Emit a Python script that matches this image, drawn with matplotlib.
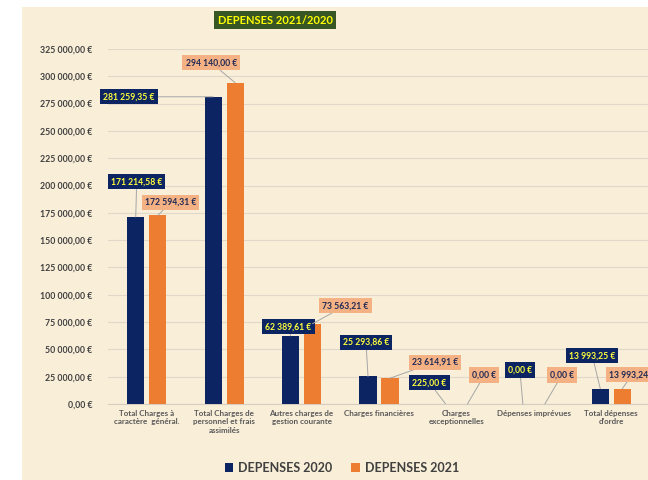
import matplotlib.pyplot as plt
import numpy as np
from matplotlib.patches import Rectangle
from matplotlib.ticker import FuncFormatter

plt.rcParams['font.family'] = ['Lato', 'DejaVu Sans']

categories = ["Total Charges à\ncaractère  général.",
              "Total Charges de\npersonnel et frais\nassimilés",
              "Autres charges de\ngestion courante",
              "Charges financières",
              "Charges\nexceptionnelles",
              "Dépenses imprévues",
              "Total dépenses\nd'ordre"]
dep_2020 = [171214.58, 281259.35, 62389.61, 25293.86, 225.00, 0.00, 13993.25]
dep_2021 = [172594.31, 294140.00, 73563.21, 23614.91, 0.00, 0.00, 13993.24]
series_names = ["DEPENSES 2020", "DEPENSES 2021"]

# label offsets in pixels from the top of each bar
off_2020 = [(1, 35), (-84, 0), (-2, 9), (-2, 34), (-16, 21), (-3, 34), (-8, 33)]
off_2021 = [(13, 13), (-24, 20), (33, 18), (45, 16), (17, 29), (17, 29), (10, 14)]

navy = "#0c2461"
orange = "#ed7d31"
salmon = "#f4b183"
bg = "#f9eed8"


def euro(v):
    s = f"{v:,.2f}".replace(",", " ").replace(".", ",")
    return s + " €"


fig = plt.figure(figsize=(6.48, 4.8), dpi=100)
fig.patch.set_facecolor("white")
fig.patches.append(Rectangle((22 / 648, 0), 1, 1 - 7 / 480, transform=fig.transFigure,
                             facecolor=bg, edgecolor="none", zorder=-10))

ax = fig.add_axes([108 / 648, 76 / 480, 542 / 648, 355 / 480])
ax.set_facecolor("none")

x = np.arange(len(categories))
w = 0.22
d = 0.142
ax.bar(x - d, dep_2020, w, color=navy, label=series_names[0], zorder=3)
ax.bar(x + d, dep_2021, w, color=orange, label=series_names[1], zorder=3)

ax.set_xlim(-0.5, len(categories) - 0.5)
ax.set_ylim(0, 325000)
ax.set_yticks(np.arange(0, 325001, 25000))
ax.yaxis.set_major_formatter(FuncFormatter(lambda v, p: euro(v)))
ax.grid(axis="y", color="#e0d8c8", linewidth=0.8, zorder=0)
ax.set_xticks(x)
ax.set_xticklabels(categories, fontsize=5.8, color="#595959", fontweight="bold", linespacing=1.3)
ax.tick_params(axis="y", length=0, pad=11, labelsize=6.3, labelcolor="#404040")
ax.tick_params(axis="x", length=0, pad=4)
for s in ["top", "right", "left"]:
    ax.spines[s].set_visible(False)
ax.spines["bottom"].set_color("#d6cfc0")
for t in ax.get_yticklabels():
    t.set_fontweight("bold")

for i in range(len(categories)):
    for val, xo, off, fc, tc in [(dep_2020[i], x[i] - d, off_2020[i], navy, "#ffff3c"),
                                 (dep_2021[i], x[i] + d, off_2021[i], salmon, "#1f2a55")]:
        ax.annotate(euro(val), xy=(xo, val), xytext=(off[0], off[1]),
                    textcoords="offset pixels", ha="center", va="center",
                    fontsize=6.2, fontweight="bold", color=tc, zorder=5,
                    bbox=dict(boxstyle="square,pad=0.35", fc=fc, ec="none"),
                    arrowprops=dict(arrowstyle="-", color="#a6a6a6", lw=0.7,
                                    shrinkA=0, shrinkB=0),
                    annotation_clip=False)

fig.text(275 / 648, 1 - 20 / 480, "DEPENSES 2021/2020", ha="center", va="center",
         fontsize=8, fontweight="bold", color="#ffff00",
         bbox=dict(boxstyle="square,pad=0.3", fc="#375623", ec="none"))

fig.legend(loc="center", bbox_to_anchor=(342 / 648, 1 - 468 / 480), ncol=2,
           frameon=False, prop={"size": 9, "weight": "bold"}, handlelength=0.7,
           handleheight=0.7, columnspacing=1.5, handletextpad=0.4, labelcolor="#404040")

fig.savefig("out.png", dpi=100)
